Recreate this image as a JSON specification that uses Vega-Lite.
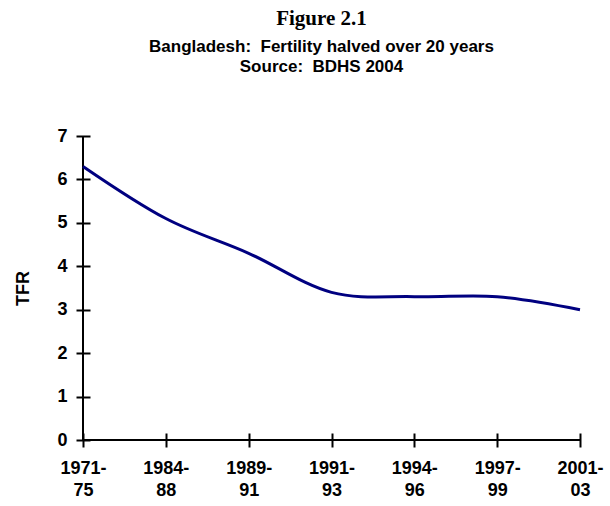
{
  "$schema": "https://vega.github.io/schema/vega-lite/v6.json",
  "autosize": "none",
  "width": 497,
  "height": 304,
  "padding": {"left": 83, "top": 136, "right": 30, "bottom": 66},
  "background": "white",
  "title": {
    "text": "Figure 2.1",
    "subtitle": ["Bangladesh:\u00a0 Fertility halved over 20 years", "Source:\u00a0 BDHS 2004"],
    "font": "Liberation Serif",
    "fontSize": 21,
    "fontWeight": "bold",
    "color": "black",
    "subtitleFont": "Liberation Sans",
    "subtitleFontSize": 17,
    "subtitleFontWeight": "bold",
    "subtitleColor": "black",
    "subtitleLineHeight": 20,
    "subtitlePadding": 10,
    "anchor": "middle",
    "dx": -10,
    "offset": 52
  },
  "data": {
    "values": [
      {"period": "1971-75", "tfr": 6.3},
      {"period": "1984-88", "tfr": 5.1},
      {"period": "1989-91", "tfr": 4.3},
      {"period": "1991-93", "tfr": 3.4},
      {"period": "1994-96", "tfr": 3.3},
      {"period": "1997-99", "tfr": 3.3},
      {"period": "2001-03", "tfr": 3.0}
    ]
  },
  "config": {
    "view": {"stroke": null},
    "axis": {
      "labelFont": "Liberation Sans",
      "labelFontWeight": "bold",
      "labelFontSize": 18,
      "labelColor": "black",
      "titleFont": "Liberation Sans",
      "titleFontWeight": "bold",
      "titleFontSize": 18,
      "titleColor": "black",
      "tickColor": "black",
      "tickWidth": 2,
      "grid": false
    }
  },
  "layer": [
    {
      "mark": {"type": "rule", "color": "black", "strokeWidth": 2},
      "encoding": {
        "x": {"datum": "1971-75", "type": "ordinal"},
        "y": {"datum": 0, "type": "quantitative"},
        "y2": {"datum": 7}
      }
    },
    {
      "mark": {"type": "rule", "color": "black", "strokeWidth": 2},
      "encoding": {
        "x": {"datum": "1971-75", "type": "ordinal"},
        "x2": {"datum": "2001-03"},
        "y": {"datum": 0, "type": "quantitative"}
      }
    },
    {
      "mark": {"type": "line", "color": "#000080", "strokeWidth": 3, "interpolate": "cardinal"},
      "encoding": {
        "x": {
          "field": "period",
          "type": "ordinal",
          "sort": null,
          "scale": {
            "type": "point",
            "padding": 0,
            "domain": ["1971-75", "1984-88", "1989-91", "1991-93", "1994-96", "1997-99", "2001-03"]
          },
          "axis": {
            "title": null,
            "labelAngle": 0,
            "labelAlign": "center",
            "domain": false,
            "offset": 7,
            "tickSize": -14,
            "labelPadding": 35,
            "labelLineHeight": 22,
            "labelExpr": "[slice(datum.label, 0, 5), slice(datum.label, 5)]"
          }
        },
        "y": {
          "field": "tfr",
          "type": "quantitative",
          "scale": {"domain": [0, 7], "nice": false, "zero": true},
          "axis": {
            "title": "TFR",
            "values": [0, 1, 2, 3, 4, 5, 6, 7],
            "domain": false,
            "offset": 7,
            "tickSize": -14,
            "labelPadding": 23,
            "titlePadding": 24
          }
        }
      }
    }
  ]
}
